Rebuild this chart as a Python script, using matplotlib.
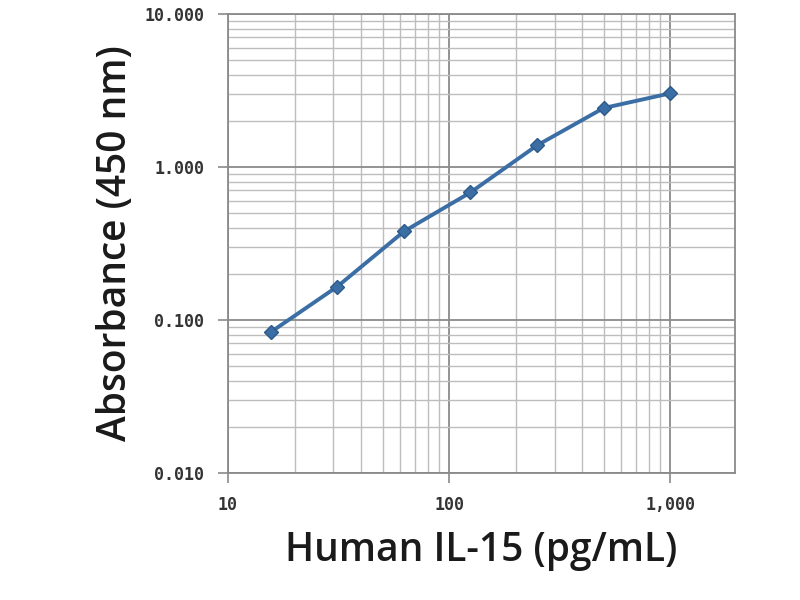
import matplotlib
matplotlib.use('Agg')
import matplotlib.pyplot as plt
from matplotlib.ticker import FixedLocator, FuncFormatter, LogLocator, NullFormatter

# standard curve, 2-fold dilutions
conc = [15.6, 31.25, 62.5, 125, 250, 500, 1000]
absorb = [0.083, 0.165, 0.378, 0.68, 1.38, 2.42, 3.02]

x_ticks = [10, 100, 1000]
x_labels = ["10", "100", "1,000"]
y_ticks = [0.01, 0.1, 1, 10]
y_labels = ["0.010", "0.100", "1.000", "10.000"]

fig = plt.figure(figsize=(8, 6), dpi=100)
ax = fig.add_axes([0.285, 0.212, 0.634, 0.765])

ax.set_xscale('log')
ax.set_yscale('log')
ax.set_xlim(10, 1970)
ax.set_ylim(0.01, 10)

ax.plot(conc, absorb, color='#3a6ea5', lw=2.8, marker='D', ms=7,
        markerfacecolor='#3a6ea5', markeredgecolor='#2d5a8a', zorder=3)

ax.xaxis.set_major_locator(FixedLocator(x_ticks))
ax.yaxis.set_major_locator(FixedLocator(y_ticks))
ax.xaxis.set_major_formatter(FuncFormatter(lambda v, p: x_labels[x_ticks.index(v)] if v in x_ticks else ""))
ax.yaxis.set_major_formatter(FuncFormatter(lambda v, p: y_labels[y_ticks.index(v)] if v in y_ticks else ""))
ax.xaxis.set_minor_locator(LogLocator(base=10, subs=range(2, 10)))
ax.yaxis.set_minor_locator(LogLocator(base=10, subs=range(2, 10)))
ax.xaxis.set_minor_formatter(NullFormatter())
ax.yaxis.set_minor_formatter(NullFormatter())

ax.grid(which='major', color='#8a8a8a', lw=1.3)
ax.grid(which='minor', color='#bdbdbd', lw=1.0)
ax.set_axisbelow(True)
ax.tick_params(which='minor', length=0)
ax.tick_params(which='major', length=7, width=1.2, color='#8a8a8a',
               labelsize=12, pad=10)
for lab in ax.get_xticklabels() + ax.get_yticklabels():
    lab.set_fontweight('bold')
    lab.set_color('#333333')
    lab.set_family('DejaVu Sans Mono')

for s in ax.spines.values():
    s.set_color('#8a8a8a')
    s.set_linewidth(1.3)

ax.set_xlabel("Human IL-15 (pg/mL)", fontsize=28, fontweight='semibold',
              family='Open Sans', color='#1a1a1a', labelpad=12)
ax.set_ylabel("Absorbance (450 nm)", fontsize=28, fontweight='semibold',
              family='Open Sans', color='#1a1a1a', labelpad=6)

fig.savefig("out.png", dpi=100)
